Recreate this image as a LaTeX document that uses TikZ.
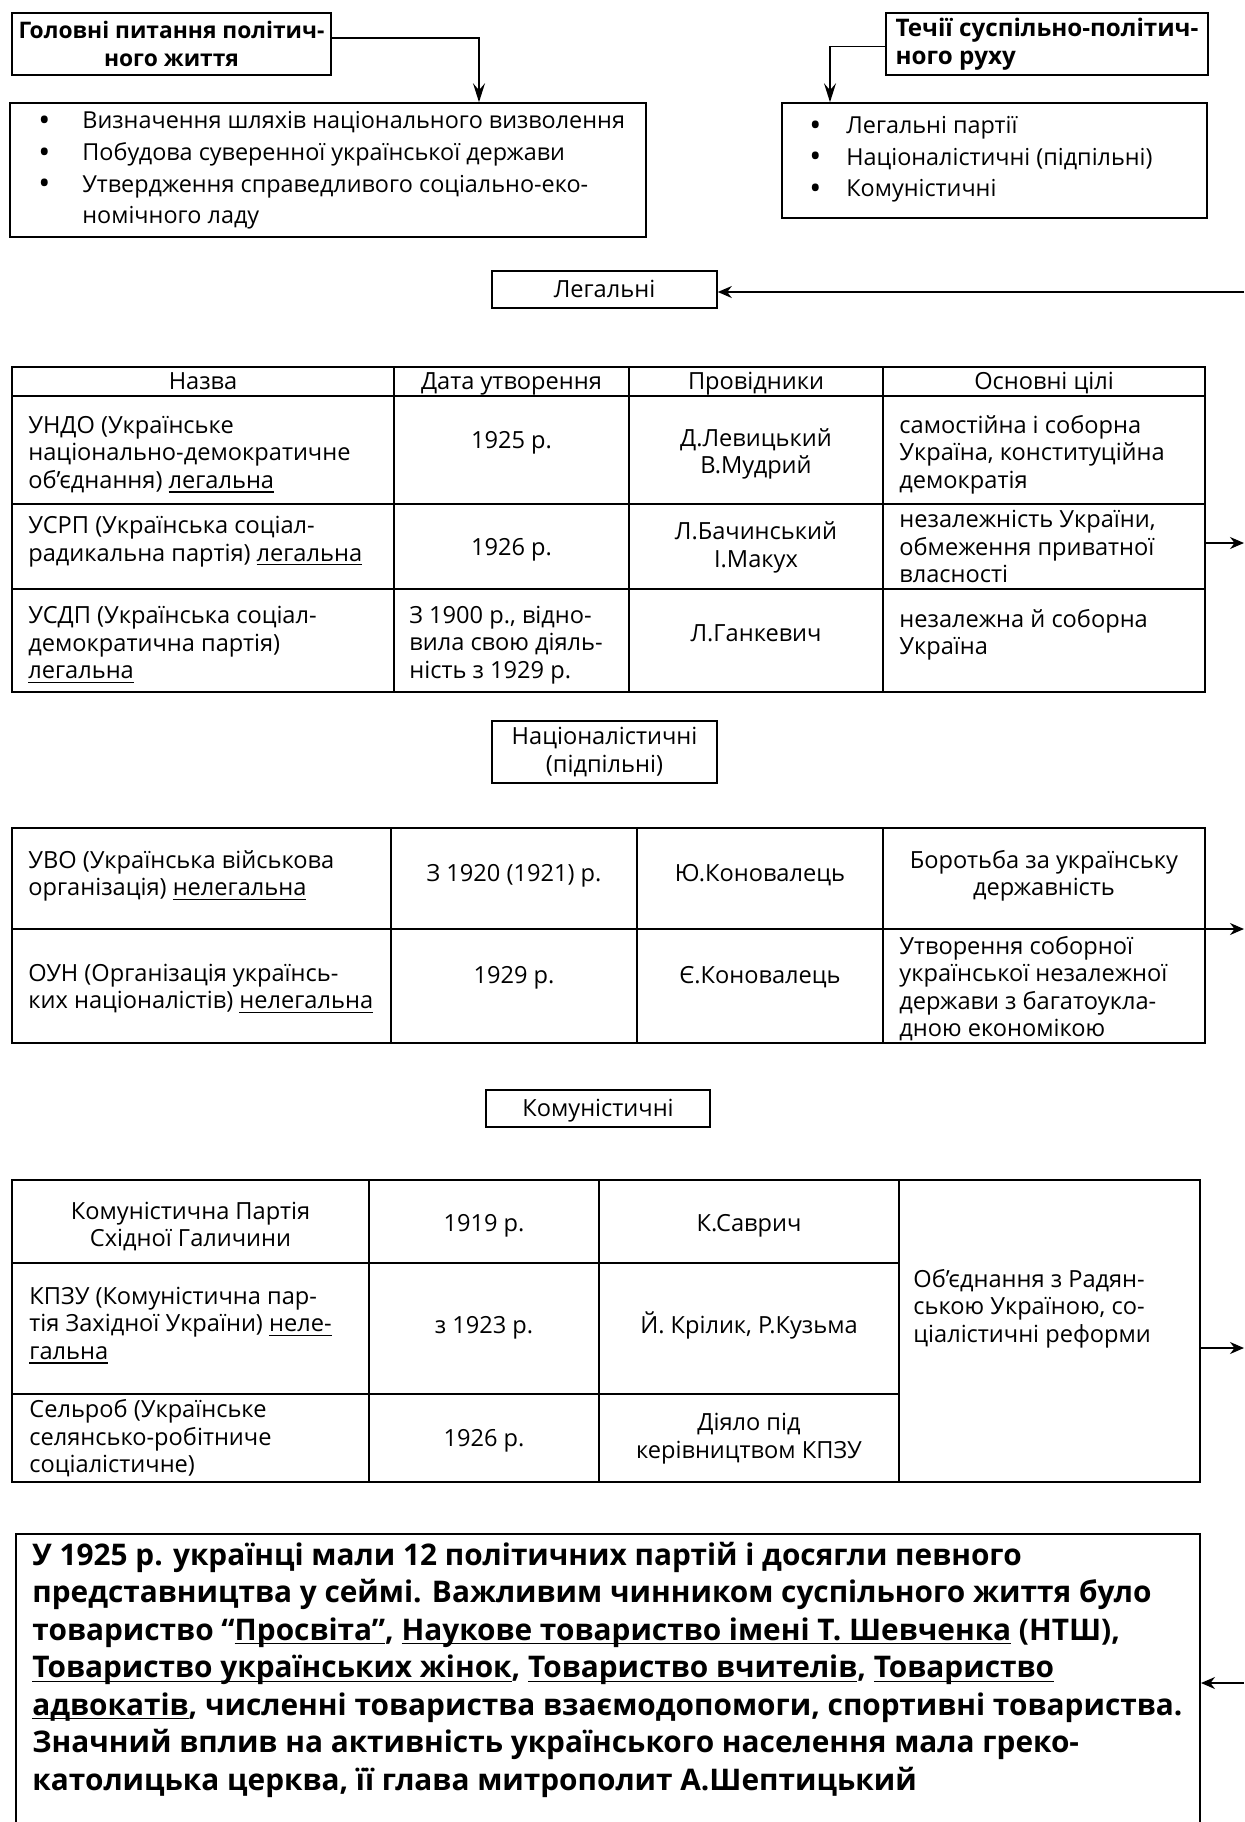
\documentclass[tikz,border=0pt]{standalone}
\usepackage{fontspec}
\setmainfont{Open Sans}
\usetikzlibrary{arrows.meta}
\newcommand\ulin[1]{\setbox0\hbox{#1}\rlap{\rule[-2.2pt]{\wd0}{0.7pt}}\box0\relax}
\newcommand\bul{\raisebox{-1.3pt}{\fontsize{16}{16}\selectfont\textbullet}}
\begin{document}
\begin{tikzpicture}[x=1pt,y=-1pt,
  frame/.style={draw, line width=0.8pt, inner sep=0pt, rectangle},
  hdrA/.style={font=\fontsize{11.4}{13.6}\selectfont\bfseries},
  hdrC/.style={font=\fontsize{12.1}{14}\selectfont\bfseries},
  body/.style={font=\fontsize{11.7}{15.8}\selectfont, inner sep=0pt},
  cell/.style={font=\fontsize{11.8}{13.75}\selectfont, inner sep=0pt},
  one/.style={text height=10.2pt, text depth=2pt},
  cellL/.style={cell, align=left, anchor=west},
  cellC/.style={cell, align=center},
  tline/.style={line width=1pt},
  cline/.style={line width=0.6pt},
  arr/.style={-{Stealth[length=7pt,width=6pt]}, line width=0.7pt},
  longarr/.style={-{Stealth[length=9.5pt,width=6pt,inset=3.5pt]}, line width=0.7pt}]
\useasboundingbox (0,0) rectangle (622,911);
\clip (0,0) rectangle (622,911);

% top-left
\node[frame, hdrA, align=center, minimum width=159.5pt, minimum height=31pt] (A) at (85.75,22) {Головні питання політич-\\ного життя};
\node[frame, minimum width=318pt, minimum height=67pt] (B) at (164,85) {};
\node[body, align=left, anchor=west] (Bt) at (19,85.25) {\makebox[22pt][l]{\bul}Визначення шляхів національного визволення\\
\makebox[22pt][l]{\bul}Побудова суверенної української держави\\
\makebox[22pt][l]{\bul}Утвердження справедливого соціально-еко-\\
\hspace*{22pt}номічного ладу};
\coordinate (a1) at (239.5,19);
\draw[longarr] (A.east |- a1) -- (a1) -- (a1 |- B.north);

% top-right
\node[frame, hdrC, align=left, minimum width=161pt, minimum height=31pt] (C) at (523.5,22) {Течії суспільно-політич-\\ного руху};
\node[frame, minimum width=212.5pt, minimum height=57.5pt] (D) at (497.25,80.25) {};
\node[body, align=left, anchor=west] (Dt) at (404.5,79.75) {\makebox[18.5pt][l]{\bul}Легальні партії\\
\makebox[18.5pt][l]{\bul}Націоналістичні (підпільні)\\
\makebox[18.5pt][l]{\bul}Комуністичні};
\coordinate (c1) at (415,23.3);
\draw[longarr] (C.west |- c1) -- (c1) -- (c1 |- D.north);

% Legal
\node[frame, cell, one, minimum width=112.5pt, minimum height=18.5pt] (L) at (302.25,144.75) {Легальні};
\coordinate (eL) at (622,146);
\draw[arr] (eL) -- (eL -| L.east);

% Table 1
\node[draw, tline, minimum width=596.5pt, minimum height=162.5pt, inner sep=0pt] (T1) at (304.25,264.75) {};
\draw[tline] (6,198) -- (602.5,198);
\draw[tline] (6,252) -- (602.5,252);
\draw[tline] (6,294.5) -- (602.5,294.5);
\draw[cline] (197,183.5) -- (197,346);
\draw[cline] (314.5,183.5) -- (314.5,346);
\draw[cline] (441.5,183.5) -- (441.5,346);
\node[cellC, one] (h1) at (101.5,190.75) {Назва};
\node[cellC, one] (h2) at (255.75,190.75) {Дата утворення};
\node[cellC, one] (h3) at (378,190.75) {Провідники};
\node[cellC, one] (h4) at (522,190.75) {Основні цілі};
\node[cellL] (r11) at (14,227.25) {УНДО (Українське\\національно-демократичне\\об’єднання) \ulin{легальна}};
\node[cellC, one] (r12) at (255.75,220) {1925 р.};
\node[cellC] (r13) at (378,227) {Д.Левицький\\В.Мудрий};
\node[cellL] (r14) at (449.5,227.25) {самостійна і соборна\\Україна, конституційна\\демократія};
\node[cellL] (r21) at (14,270.75) {УСРП (Українська соціал-\\радикальна партія) \ulin{легальна}};
\node[cellC, one] (r22) at (255.75,273.5) {1926 р.};
\node[cellC] (r23) at (378,273.75) {Л.Бачинський\\І.Макух};
\node[cellL] (r24) at (449.5,273.25) {незалежність України,\\обмеження приватної\\власності};
\node[cellL] (r31) at (14,322.5) {УСДП (Українська соціал-\\демократична партія)\\\ulin{легальна}};
\node[cellL] (r32) at (204.5,322.5) {З 1900 р., відно-\\вила свою діяль-\\ність з 1929 р.};
\node[cellC, one] (r33) at (378,316.5) {Л.Ганкевич};
\node[cellL] (r34) at (449.5,317.5) {незалежна й соборна\\Україна};
\coordinate (e1) at (622,271.5);
\draw[arr] (e1 -| T1.east) -- (e1);

% Nationalist
\node[frame, cellC, minimum width=112.5pt, minimum height=31pt] (N) at (302.25,376) {Націоналістичні\\(підпільні)};

% Table 2
\node[draw, tline, minimum width=596.5pt, minimum height=107.5pt, inner sep=0pt] (T2) at (304.25,467.75) {};
\draw[tline] (6,464.5) -- (602.5,464.5);
\draw[cline] (195.5,414) -- (195.5,521.5);
\draw[cline] (318.5,414) -- (318.5,521.5);
\draw[cline] (441.5,414) -- (441.5,521.5);
\node[cellL] (s11) at (14,438) {УВО (Українська військова\\організація) \ulin{нелегальна}};
\node[cellC, one] (s12) at (257,436.5) {З 1920 (1921) р.};
\node[cellC, one] (s13) at (380,436.5) {Ю.Коновалець};
\node[cellC] (s14) at (522,438) {Боротьба за українську\\державність};
\node[cellL] (s21) at (14,494.25) {ОУН (Організація українсь-\\ких націоналістів) \ulin{нелегальна}};
\node[cellC, one] (s22) at (257,487.5) {1929 р.};
\node[cellC, one] (s23) at (380,487.5) {Є.Коновалець};
\node[cellL] (s24) at (449.5,494.25) {Утворення соборної\\української незалежної\\держави з багатоукла-\\дною економікою};
\coordinate (e2) at (622,464.5);
\draw[arr] (e2 -| T2.east) -- (e2);

% Communist
\node[frame, cell, one, minimum width=112pt, minimum height=18.5pt] (K) at (299,554.25) {Комуністичні};

% Table 3
\node[draw, tline, minimum width=594pt, minimum height=151pt, inner sep=0pt] (T3) at (303,665.5) {};
\draw[tline] (6,631.5) -- (449.5,631.5);
\draw[tline] (6,697) -- (449.5,697);
\draw[cline] (184.5,590) -- (184.5,741);
\draw[cline] (299.5,590) -- (299.5,741);
\draw[cline] (449.5,590) -- (449.5,741);
\node[cellC] (k11) at (95.25,613.25) {Комуністична Партія\\Східної Галичини};
\node[cellC, one] (k12) at (242,611.5) {1919 р.};
\node[cellC, one] (k13) at (374.5,611.5) {К.Саврич};
\node[cellL] (k21) at (14.5,662.75) {КПЗУ (Комуністична пар-\\тія Західної України) \ulin{неле-}\\\ulin{гальна}};
\node[cellC, one] (k22) at (242,662.5) {з 1923 р.};
\node[cellC, one] (k23) at (374.5,662.5) {Й. Крілик, Р.Кузьма};
\node[cellL] (k31) at (14.5,719.25) {Сельроб (Українське\\селянсько-робітниче\\соціалістичне)};
\node[cellC, one] (k32) at (242,719) {1926 р.};
\node[cellC] (k33) at (374.5,719.25) {Діяло під\\керівництвом КПЗУ};
\node[cellL] (k4) at (456.5,654.25) {Об’єднання з Радян-\\ською Україною, со-\\ціалістичні реформи};
\coordinate (e3) at (622,674);
\draw[arr] (e3 -| T3.east) -- (e3);

% Bottom
\node[draw, line width=1pt, minimum width=592pt, minimum height=193pt, inner sep=0pt] (S) at (304,863.5) {};
\node[font=\fontsize{14.9}{18.75}\selectfont\bfseries, align=left, anchor=west, inner sep=0pt] (St) at (16,834.75) {У 1925 р. українці мали 12 політичних партій і досягли певного\\
представництва у сеймі. Важливим чинником суспільного життя було\\
товариство “\ulin{Просвіта”}, \ulin{Наукове товариство імені Т. Шевченка} (НТШ),\\
\ulin{Товариство українських жінок}, \ulin{Товариство вчителів}, \ulin{Товариство}\\
\ulin{адвокатів}, численні товариства взаємодопомоги, спортивні товариства.\\
Значний вплив на активність українського населення мала греко-\\
католицька церква, її глава митрополит А.Шептицький};
\coordinate (e4) at (622,841.5);
\draw[arr] (e4) -- (e4 -| S.east);
\end{tikzpicture}
\end{document}
